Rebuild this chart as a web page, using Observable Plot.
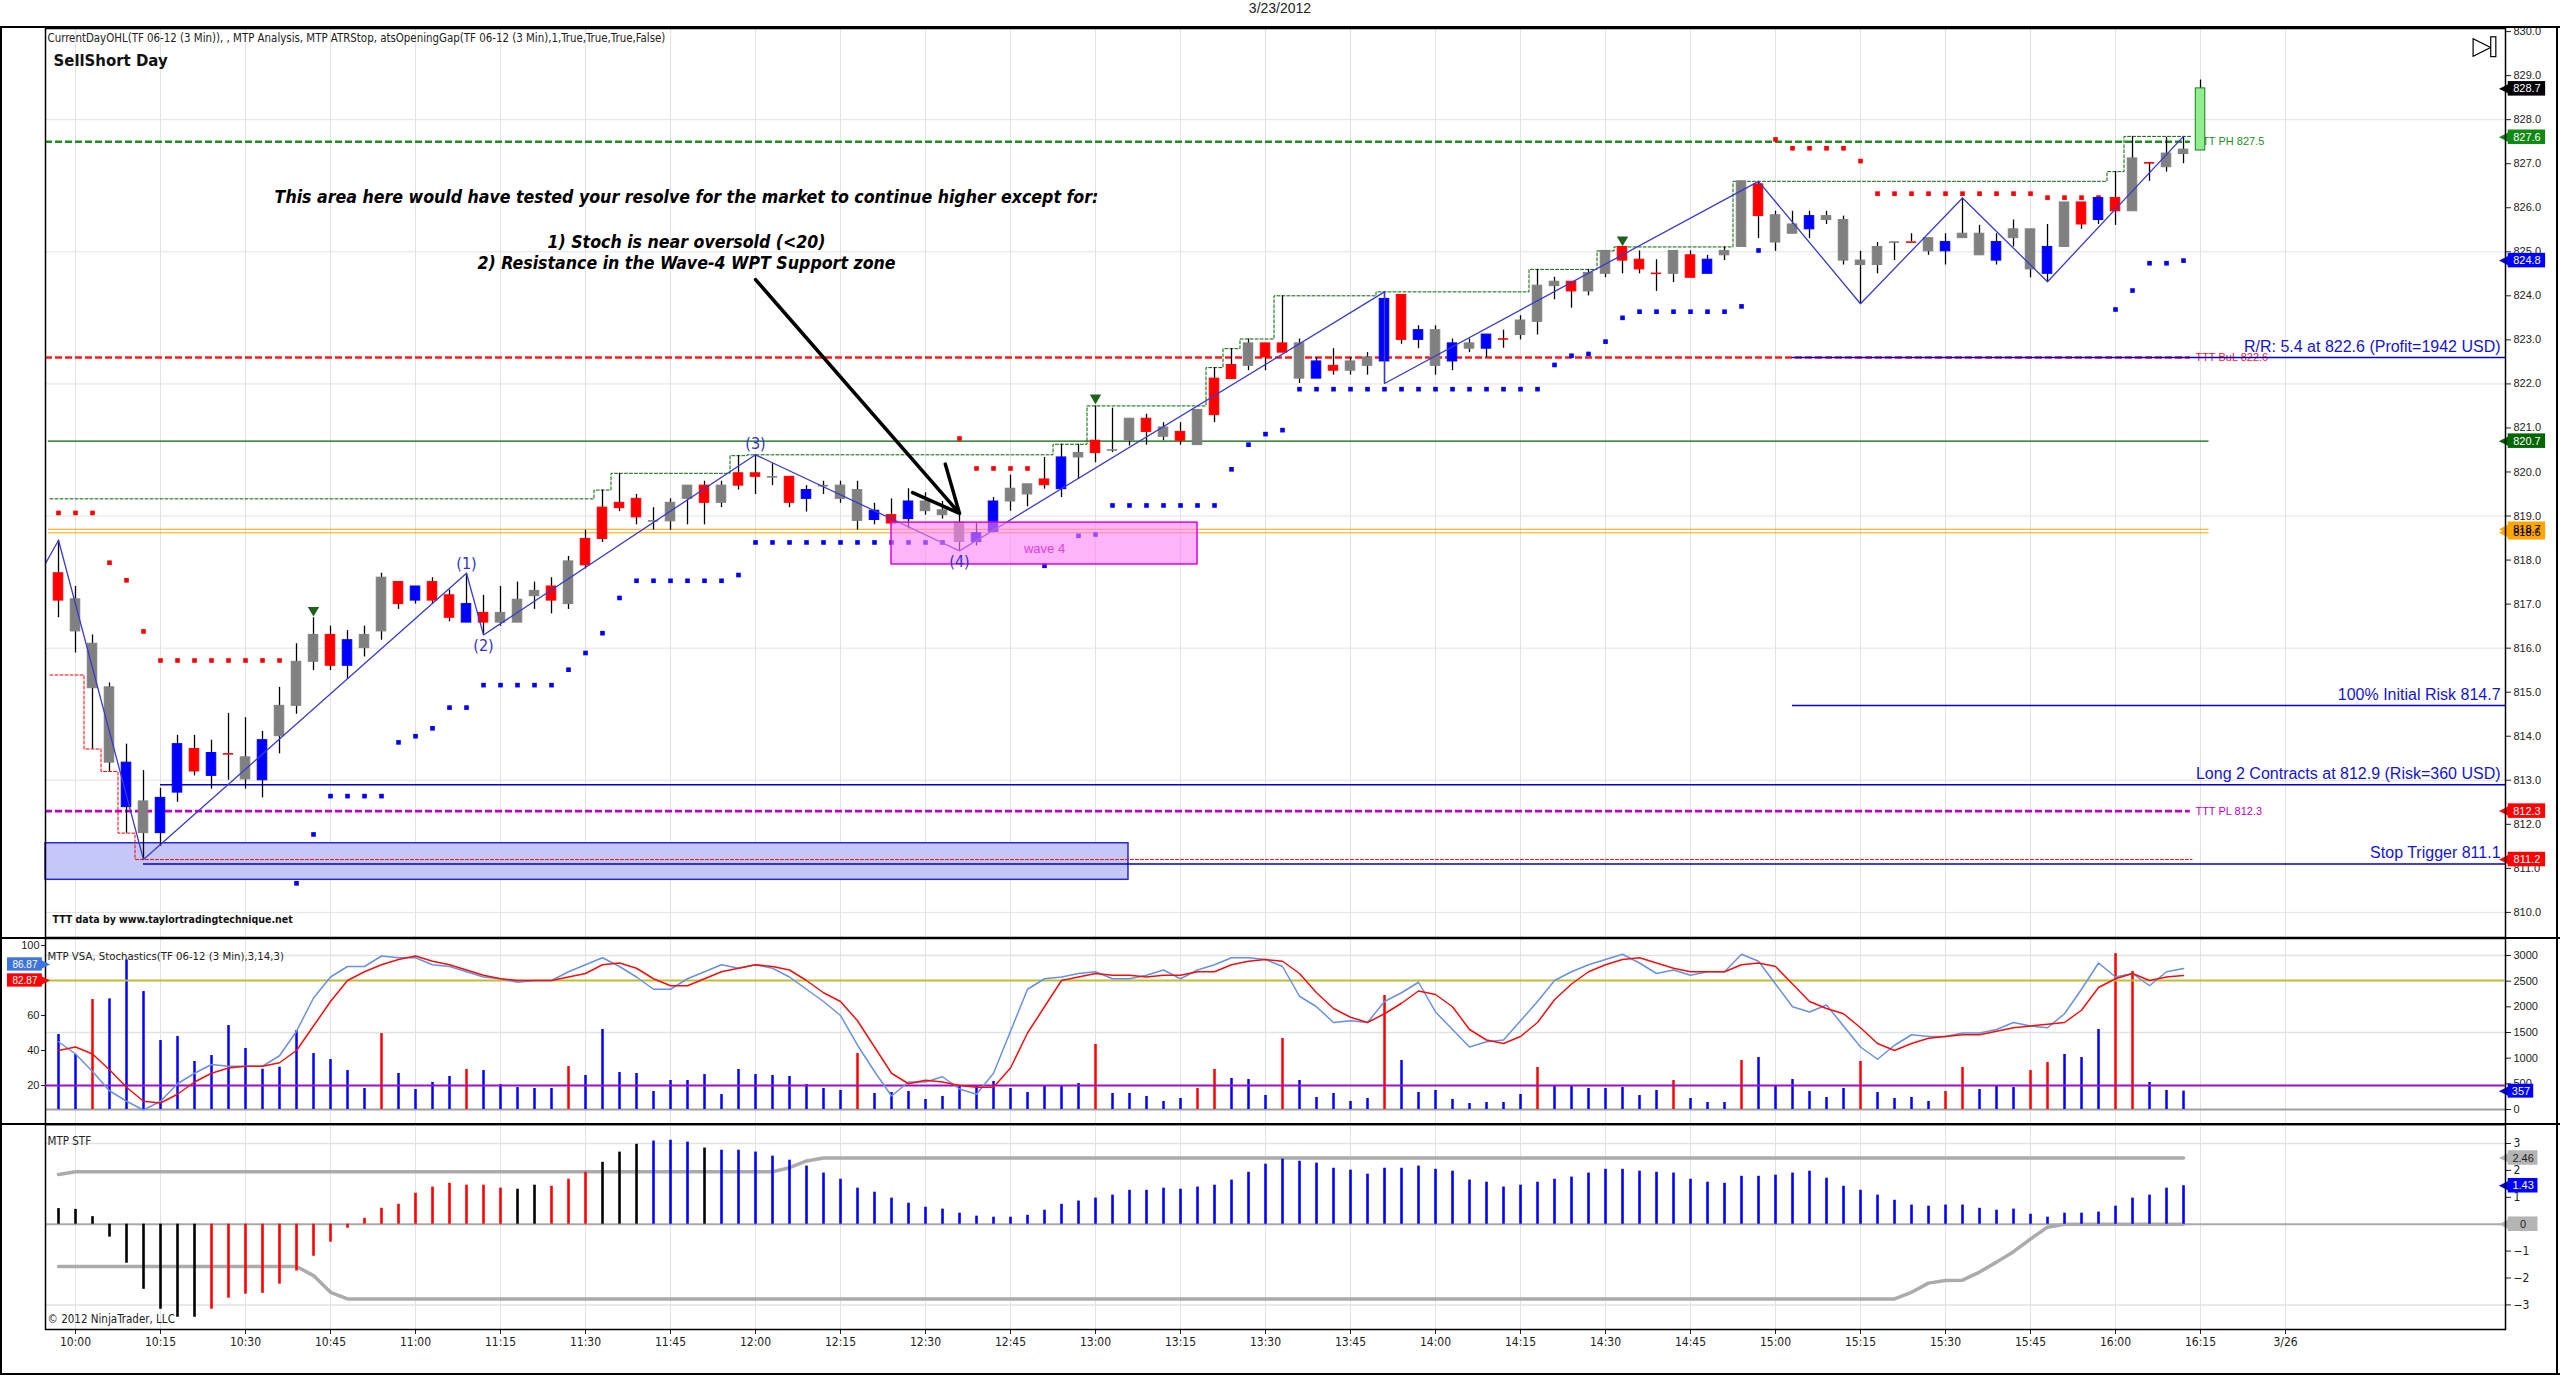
<!DOCTYPE html>
<html>
<head>
<meta charset="utf-8">
<script src="https://cdn.jsdelivr.net/npm/d3@7"></script>
<script src="https://cdn.jsdelivr.net/npm/@observablehq/plot@0.6"></script>
<style>
html,body{margin:0;padding:0;background:#fff;}
#root{position:relative;width:2560px;height:1375px;overflow:hidden;background:#fff;}
#title{position:absolute;left:0;top:0;width:2560px;height:26px;line-height:25px;text-align:center;font:14px "Liberation Sans",Arial,sans-serif;color:#222;}
.pane{position:absolute;left:0;width:2560px;}
.pane svg{position:absolute;left:0;top:0;}
.hl{position:absolute;left:0;width:2560px;height:2px;background:#000;}
.vl{position:absolute;top:26px;width:2px;height:1349px;background:#000;}
</style>
</head>
<body>
<div id="root">
  <div id="title">3/23/2012</div>
  <div id="price" class="pane" style="top:28px;height:909px"></div>
  <div id="stoch" class="pane" style="top:938px;height:186px"></div>
  <div id="stf" class="pane" style="top:1124px;height:251px"></div>
  <div class="hl" style="top:26px"></div>
  <div class="hl" style="top:937px"></div>
  <div class="hl" style="top:1123px"></div>
  <div class="hl" style="top:1373px"></div>
  <div class="vl" style="left:0"></div>
  <div class="vl" style="left:2556px"></div>
</div>
<script>
// ======================= DATA =======================
// 3-minute bars, index 0 = 9:57, index 1 = 10:00 ... index 126 = 16:15
const timeLabels = ["10:00","10:15","10:30","10:45","11:00","11:15","11:30","11:45","12:00","12:15","12:30","12:45","13:00","13:15","13:30","13:45","14:00","14:15","14:30","14:45","15:00","15:15","15:30","15:45","16:00","16:15","3/26"];

const open = [
817.70,816.38,815.09,813.40,812.39,811.80,811.80,812.72,813.71,813.10,
813.60,813.02,813.00,814.00,814.69,815.69,816.30,815.60,816.00,816.38,
817.50,817.08,817.50,817.20,816.58,816.80,816.58,816.58,817.18,817.40,
817.00,818.48,819.19,819.30,819.39,818.89,818.88,819.39,819.69,819.30,
819.97,819.97,819.89,819.89,819.39,819.69,819.39,818.89,818.91,819.02,
818.93,819.11,819.02,818.41,818.41,818.64,819.33,819.49,819.83,819.61,
820.33,820.71,820.50,820.71,821.21,820.80,820.91,820.61,822.12,822.43,
822.41,822.92,822.92,822.12,822.12,822.41,822.30,822.41,822.51,824.02,
823.00,822.41,822.51,822.80,822.80,823.02,823.11,823.41,824.22,824.32,
824.10,824.50,825.11,824.82,824.51,824.50,824.92,824.50,824.92,825.11,
826.53,825.21,825.41,825.51,825.72,824.80,824.70,824.70,825.22,825.22,
825.01,825.01,825.31,824.92,824.80,825.31,824.60,824.50,825.11,826.12,
825.72,826.22,825.92,827.02,826.92,827.22,827.30];
const high = [
818.45,817.40,816.30,815.21,813.82,813.22,812.82,814.02,814.02,813.91,
814.52,814.42,814.11,815.11,816.10,816.69,816.50,816.40,816.50,817.70,
817.50,817.40,817.60,817.32,817.70,817.20,817.40,817.50,817.50,817.60,
818.08,818.68,819.59,819.97,819.49,819.19,819.39,819.69,819.79,819.79,
820.37,820.39,820.19,819.89,819.69,819.79,819.79,819.79,819.29,819.39,
819.62,819.53,819.33,819.04,818.83,819.42,819.93,819.72,820.33,820.63,
820.63,821.50,821.45,821.21,821.31,821.12,821.12,821.41,822.37,822.80,
823.02,822.92,824.00,823.02,822.60,822.80,822.60,822.71,824.09,824.02,
823.32,823.32,823.02,823.02,823.12,823.22,823.55,824.60,824.42,824.32,
824.60,825.02,825.11,825.02,824.82,825.02,825.02,824.92,825.11,826.60,
826.60,825.92,825.92,825.92,825.92,825.81,825.01,825.21,825.22,825.41,
825.31,825.41,826.22,825.60,825.41,825.72,825.51,825.62,826.12,826.12,
826.22,826.82,827.62,827.02,827.60,827.60,828.90];
const low = [
816.69,815.89,813.71,813.20,811.80,811.20,811.50,812.50,813.10,812.80,
813.00,812.80,812.60,813.60,814.50,815.49,815.49,815.29,815.80,816.18,
816.88,817.00,817.00,816.60,816.58,816.30,816.50,816.58,816.88,816.78,
816.88,817.80,818.40,819.10,818.80,818.68,818.68,818.80,818.80,819.19,
819.59,819.49,819.69,819.19,819.09,819.49,819.29,818.68,818.80,818.77,
818.71,819.02,818.93,818.21,818.32,818.62,819.11,819.21,819.61,819.42,
819.83,820.21,820.44,820.59,820.61,820.71,820.61,820.61,821.12,822.11,
822.30,822.30,822.71,822.01,822.12,822.20,822.20,822.20,822.01,822.90,
822.80,822.20,822.30,822.71,822.60,822.81,823.00,823.11,823.91,823.72,
824.00,824.41,824.50,824.50,824.10,824.30,824.41,824.50,824.80,825.11,
825.30,825.01,825.41,825.30,825.62,824.70,823.82,824.50,824.80,825.22,
824.92,824.70,825.31,824.92,824.70,825.11,824.41,824.32,825.11,825.51,
825.62,825.60,825.92,826.60,826.81,827.00,827.30];
const close = [
817.08,817.11,816.10,815.11,813.40,812.52,812.60,813.82,813.20,813.62,
813.60,813.52,813.91,814.69,815.69,816.30,815.60,816.18,816.30,817.60,
817.00,817.40,817.08,816.69,817.00,816.58,816.80,817.10,817.30,817.08,
817.97,817.88,818.48,819.18,818.97,818.89,819.30,819.69,819.30,819.69,
819.69,819.89,819.89,819.30,819.59,819.69,819.69,819.59,819.12,818.83,
819.33,819.33,819.13,818.85,818.61,819.33,819.62,819.72,819.70,820.33,
820.43,820.43,820.50,821.21,820.91,821.01,820.71,821.41,821.29,822.11,
822.92,822.60,822.71,822.92,822.51,822.30,822.51,822.60,823.93,823.00,
823.22,823.22,822.92,822.92,823.12,823.02,823.44,824.23,824.32,824.10,
824.52,825.02,824.80,824.60,824.51,825.02,824.41,824.82,825.02,826.60,
825.81,825.83,825.62,825.81,825.81,825.72,824.80,825.11,825.22,825.22,
825.31,825.22,825.41,825.41,825.22,825.51,825.51,825.11,826.12,825.62,
826.22,825.92,827.12,827.02,827.23,827.32,828.71];
// r = red, b = blue, g = gray, G = current (green) bar
const barColor = Array.from(
"rgggbgbbrb"+"rgbgggrbgg"+"rbrrbrgggr"+"grrrrgggrg"+"rrgrbgggbr"+
"bgggbbggrb"+"grggrgrgrr"+"grrgbrggbr"+"bgbgbrgggr"+"ggrrrgrbgg"+
"rggbgggggr"+"gbggbggbgr"+"brgrggG");

const priorHigh = 819.39;   // day high carried from earlier bars
const priorLow = 815.39;    // day low carried from earlier bars

// ATR stop (red above = short stop, blue below = long stop)
const atrShort = [
819.07,819.07,819.07,817.94,817.54,816.38,815.72,815.72,815.72,815.72,
815.72,815.72,815.72,815.72,null,null,null,null,null,null,
null,null,null,null,null,null,null,null,null,null,
null,null,null,null,null,null,null,null,null,null,
null,null,null,null,null,null,null,null,null,null,
null,null,null,820.76,820.08,820.08,820.08,820.08,null,null,
null,null,null,null,null,null,null,null,null,null,
null,null,null,null,null,null,null,null,null,null,
null,null,null,null,null,null,null,null,null,null,
null,null,null,null,null,null,null,null,null,null,
null,827.55,827.35,827.35,827.35,827.35,827.06,826.32,826.32,826.32,
826.32,826.32,826.32,826.32,826.32,826.32,826.32,826.23,826.23,826.23,
826.23,null,null,null,null,null];
const atrLong = [
null,null,null,null,null,null,null,null,null,null,
null,null,null,null,810.66,811.77,812.64,812.64,812.64,812.64,
813.86,814.00,814.18,814.65,814.65,815.16,815.16,815.16,815.16,815.16,
815.51,815.89,816.34,817.14,817.53,817.53,817.53,817.53,817.53,817.53,
817.66,818.40,818.40,818.40,818.40,818.40,818.40,818.40,818.40,818.40,
818.40,818.40,818.40,null,null,null,null,null,817.87,null,
818.55,818.58,819.24,819.24,819.24,819.24,819.24,819.24,819.24,820.06,
820.62,820.86,820.95,821.88,821.88,821.88,821.88,821.88,821.88,821.88,
821.88,821.88,821.88,821.88,821.88,821.88,821.88,821.88,822.43,822.64,
822.68,822.96,823.50,823.64,823.64,823.64,823.64,823.64,823.64,823.76,
825.03,null,null,null,null,null,null,null,null,null,
null,null,null,null,null,null,null,null,null,null,
null,823.69,824.12,824.74,824.74,824.80];

// Wave zig-zag
const zigBar   = [-1, 0, 5, 24, 25, 41, 53, 78, 78, 100, 106, 112, 117, 125];
const zigPrice = [817.76, 818.45, 811.20, 817.70, 816.30, 820.39, 818.21, 824.09, 822.01, 826.60, 823.82, 826.22, 824.32, 827.62];
const waveLabel = ["(1)", "(2)", "(3)", "(4)"];
const waveBar   = [24, 25, 41, 53];
const wavePrice = [817.92, 816.05, 820.63, 817.96];

const signalBar   = [15, 61, 92];
const signalPrice = [816.85, 821.67, 825.26];

// TTT levels
const levelName  = ["TTT PH", "TTT BuL", "TTT PL"];
const levelValue = [827.5, 822.6, 812.3];
const levelColor = ["#1E8C1E", "#FF1A1A", "#C000C0"];
const levelText  = ["#1E8C1E", "#FF1A1A", "#C000C0"];
// opening gap / other reference lines
const refValue = [820.7, 818.7, 818.62];
const refColor = ["#006400", "#FFA500", "#FFA500"];
const refDash  = ["16,8", "10,3", "2,2"];

// trade annotations
const tradeText  = ["R/R: 5.4 at 822.6 (Profit=1942 USD)", "100% Initial Risk 814.7", "Long 2 Contracts at 812.9 (Risk=360 USD)", "Stop Trigger 811.1"];
const tradeValue = [822.6, 814.7, 812.9, 811.1];
const tradeStart = [102, 102, 6, 5];

// zones
const zoneName  = ["support", "wave 4"];
const zoneStart = [-0.765, 49.0];
const zoneEnd   = [62.94, 67.0];
const zoneLow   = [810.74, 817.90];
const zoneHigh  = [811.57, 818.85];

// price axis value tags
const priceTagValue = [818.62, 828.7, 827.6, 824.8, 820.7, 818.7, 812.3, 811.2];
const priceTagFill  = ["#FFA500", "#000000", "#118811", "#0000FF", "#006400", "#FFA500", "#FF0000", "#FF0000"];
const priceTagInk   = ["#000000", "#FFFFFF", "#FFFFFF", "#FFFFFF", "#FFFFFF", "#000000", "#FFFFFF", "#FFFFFF"];

// Volume (bars 0..125)
const volume = [
1460,1071,2142,2155,2914,2297,1343,1421,935,1051,
1635,1188,785,824,1538,1090,973,759,409,1480,
701,389,526,643,779,759,487,428,409,409,
837,662,1558,720,701,350,565,565,681,292,
779,681,662,643,487,409,370,1090,312,331,
350,195,253,467,467,545,409,331,467,448,
506,1266,312,312,253,156,214,409,779,604,
584,273,1382,565,234,312,156,214,2220,954,
331,370,195,117,136,136,292,818,467,467,
409,409,428,273,370,565,214,136,136,954,
1012,467,584,350,234,409,935,331,214,234,
156,350,818,389,467,428,759,915,1071,1012,
1558,3037,2687,526,370,357];
const volColor = Array.from(
"bbrbbbbbbb"+"bbbbbbbbbr"+"bbbbrbbbbb"+"rbbbbbbbbb"+"bbbbbbbrbb"+
"bbbbbbbbbb"+"brbbbbbrrb"+"bbrbbbbbrb"+"bbbbbbbrbb"+"bbbbbrbbbr"+
"bbbbbbrbbb"+"brrbbbrrbb"+"brrbbb");

// Stochastics (3,14,3)
const stochK = [
45,38,28,17,11,6,11,21,27,32,
31,31,31,37,51,70,82,88,88,94,
93,93,89,88,85,82,81,79,80,80,
85,89,93,88,82,75,75,81,85,89,
87,89,87,82,75,68,60,43,28,14,
22,22,25,18,15,27,51,75,81,82,
84,85,81,81,83,86,81,86,89,93,
93,92,88,71,65,56,57,56,68,73,
79,62,52,42,45,46,57,68,80,85,
89,92,95,90,84,86,83,85,85,95,
91,78,65,62,66,54,42,35,43,49,
48,48,50,50,52,56,54,53,61,75,
90,82,84,77,85,86.87];
const stochD = [
40,42,38,29,19,11,10,15,22,27,
30,31,31,33,40,54,68,80,85,89,
92,94,91,89,86,83,81,80,80,80,
82,84,89,90,87,81,77,77,81,85,
87,89,88,86,80,73,68,57,42,27,
21,23,22,20,19,19,30,50,65,80,
82,84,83,83,82,83,83,85,85,89,
91,92,91,84,73,64,59,56,61,67,
74,72,65,52,46,44,48,56,69,78,
85,89,92,93,90,87,85,85,85,89,
90,88,78,68,64,61,53,44,40,44,
47,48,49,49,51,53,54,55,56,63,
76,81,84,80,82,82.87];

// MTP STF histogram
const stf = [
0.58,0.55,0.28,-0.48,-1.45,-2.42,-3.16,-3.46,-3.46,-3.16,
-2.75,-2.60,-2.57,-2.23,-1.74,-1.19,-0.67,-0.15,0.22,0.59,
0.74,1.15,1.38,1.52,1.45,1.45,1.34,1.30,1.45,1.41,
1.67,1.93,2.30,2.68,2.97,3.09,3.12,3.05,2.83,2.75,
2.75,2.68,2.53,2.38,2.16,1.90,1.67,1.34,1.19,0.97,
0.78,0.63,0.56,0.41,0.30,0.26,0.26,0.33,0.52,0.74,
0.86,0.97,1.08,1.26,1.26,1.34,1.30,1.38,1.45,1.64,
1.93,2.23,2.42,2.34,2.27,2.08,2.01,1.86,2.08,2.08,
2.16,2.04,1.97,1.64,1.56,1.38,1.45,1.56,1.67,1.75,
1.90,2.04,2.04,1.97,1.93,1.90,1.67,1.56,1.52,1.78,
1.78,1.82,1.90,1.97,1.71,1.41,1.26,1.08,0.89,0.71,
0.67,0.71,0.71,0.59,0.52,0.56,0.37,0.26,0.41,0.41,
0.45,0.67,0.97,1.08,1.34,1.43];
const stfColor = Array.from(
"kkkkkkkkkr"+"rrrrrrrrrr"+"rrrrrrrkkr"+"rrkkkbbbkb"+"bbbbbbbbbb"+
"bbbbbbbbbb"+"bbbbbbbbbb"+"bbbbbbbbbb"+"bbbbbbbbbb"+"bbbbbbbbbb"+
"bbbbbbbbbb"+"bbbbbbbbbb"+"bbbbbb");
const stfUpperBar   = [0, 1, 42, 43, 44, 45, 125];
const stfUpperValue = [1.85, 1.95, 1.95, 2.10, 2.35, 2.46, 2.46];
const stfLowerBar   = [0, 14, 15, 16, 17, 108, 109, 110, 111, 112, 113, 114, 115, 116, 117, 118, 125];
const stfLowerValue = [-1.57, -1.57, -1.91, -2.53, -2.78, -2.78, -2.53, -2.19, -2.09, -2.08, -1.78, -1.41, -1.02, -0.55, -0.11, 0, 0];

// ======================= CHECKS =======================
function check(name, arr, n){ if (arr.length !== n) throw new Error(name + " length " + arr.length + " expected " + n); }
[["open",open],["high",high],["low",low],["close",close],["barColor",barColor]].forEach(([n,a])=>check(n,a,127));
[["atrShort",atrShort],["atrLong",atrLong],["volume",volume],["volColor",volColor],["stochK",stochK],["stochD",stochD],["stf",stf],["stfColor",stfColor]].forEach(([n,a])=>check(n,a,126));

// ======================= LAYOUT / STYLE =======================
const SANS = "'Liberation Sans', Arial, sans-serif";
const NARROW = "'Liberation Sans Narrow', 'Arial Narrow', 'DejaVu Sans Condensed', 'Liberation Sans', sans-serif";
const XDOM = [-0.765, 143.94];
const COMMON = {width: 2560, marginLeft: 45, marginRight: 55};
const tickBars = timeLabels.map((_, k) => 1 + 5 * k);
const BAR = {r: "#FF0000", b: "#0000FF", g: "#808080", G: "#90EE90", k: "#000000"};
const GRID = "#E2E2E2";

// custom symbols
const symLeft  = {draw(c, s){ const r = Math.sqrt(s) * 0.55; c.moveTo(-r, 0); c.lineTo(r, -r); c.lineTo(r, r); c.closePath(); }};
const symRight = {draw(c, s){ const r = Math.sqrt(s) * 0.55; c.moveTo(r, 0); c.lineTo(-r, -r); c.lineTo(-r, r); c.closePath(); }};
const symDown  = {draw(c, s){ const r = Math.sqrt(s) * 0.55; c.moveTo(0, r); c.lineTo(-r, -r * 0.7); c.lineTo(r, -r * 0.7); c.closePath(); }};

function tags(values, fills, inks, texts, x1, x2, tipX, half, dir, fs, shift) {
  const d = values.map((v, k) => ({v, f: fills[k], ink: inks[k], t: texts[k]}));
  const dy = shift || 0;
  return [
    Plot.dot(d, {x: tipX, y: "v", symbol: dir === "left" ? symLeft : symRight, r: 5.2, fill: "f", stroke: "f", dy}),
    Plot.rect(d, {x1: x1, x2: x2, y1: e => e.v - half, y2: e => e.v + half, fill: "f", dy}),
    Plot.text(d, {x: (x1 + x2) / 2, y: "v", text: "t", fill: "ink", fontSize: fs || 11, fontFamily: SANS, dy})
  ];
}

// ======================= PRICE PANEL =======================
const bars = open.map((o, i) => ({i, o, h: high[i], l: low[i], c: close[i], k: barColor[i]}));
const bodies = bars.filter(d => Math.abs(d.o - d.c) >= 0.02);
const dojis = bars.filter(d => Math.abs(d.o - d.c) < 0.02);

let runHi = priorHigh, runLo = priorLow;
const hiSteps = [], loSteps = [];
for (let i = 0; i < volume.length; i++) {
  runHi = Math.max(runHi, high[i]); runLo = Math.min(runLo, low[i]);
  hiSteps.push({x: i - 0.5, v: runHi}); loSteps.push({x: i - 0.5, v: runLo});
}
hiSteps.push({x: volume.length - 0.5, v: runHi}); loSteps.push({x: volume.length - 0.5, v: runLo});

const levels = levelValue.map((v, k) => ({v, c: levelColor[k], tc: levelText[k], t: levelName[k] + " " + v.toFixed(1)}));
const refs = refValue.map((v, k) => ({v, c: refColor[k], dash: refDash[k]}));
const trades = tradeValue.map((v, k) => ({v, s: tradeStart[k], t: tradeText[k]}));
const zones = zoneName.map((n, k) => ({n, x1: zoneStart[k], x2: zoneEnd[k], y1: zoneLow[k], y2: zoneHigh[k]}));
const shortStops = atrShort.map((v, i) => ({i, v})).filter(d => d.v != null);
const longStops = atrLong.map((v, i) => ({i, v})).filter(d => d.v != null);
const zig = zigBar.map((b, k) => ({x: b, y: zigPrice[k]}));
const waves = waveLabel.map((t, k) => ({t, x: waveBar[k], y: wavePrice[k]}));
const signals = signalBar.map((b, k) => ({x: b, y: signalPrice[k]}));
const priceTicks = d3.range(810, 830.5, 1);
const priceGrid = d3.range(810, 830, 3);
const NOTE = {fontSize: 17.6, fontWeight: "bold", fontStyle: "italic", fontFamily: NARROW, fill: "#000"};

const pricePlot = Plot.plot({
  ...COMMON, height: 909, marginTop: 0, marginBottom: 0,
  style: {fontFamily: SANS, fontSize: "11px", color: "#222", background: "transparent", overflow: "visible"},
  x: {domain: XDOM, axis: null},
  y: {domain: [809.43, 830.07], axis: "right", ticks: priceTicks, tickFormat: d => d.toFixed(1), tickSize: 5, tickPadding: 3, label: null},
  color: {type: "identity"},
  marks: [
    Plot.ruleX(tickBars, {stroke: GRID}),
    Plot.ruleY(priceGrid, {stroke: GRID}),
    // blue support zone
    Plot.rect(zones.filter(z => z.n === "support"), {x1: "x1", x2: "x2", y1: "y1", y2: "y2", fill: "#C4C7F7", stroke: "#2A2AD0", strokeWidth: 1.5}),
    // reference lines
    Plot.ruleY(refs, {y: "v", x1: -0.6, x2: 126.5, stroke: "c", strokeDasharray: d => d.dash, strokeWidth: 1.2}),
    Plot.ruleY(levels, {y: "v", x1: XDOM[0], x2: 125.4, stroke: "c", strokeWidth: 2.6, strokeDasharray: "7,3"}),
    Plot.text(levels, {x: 125.7, y: "v", text: "t", fill: "tc", textAnchor: "start", fontSize: 11, fontFamily: SANS}),
    // day high / low steps
    Plot.line(hiSteps, {x: "x", y: "v", curve: "step-after", stroke: "#006400", strokeWidth: 1, strokeDasharray: "3,2"}),
    Plot.line(loSteps, {x: "x", y: "v", curve: "step-after", stroke: "#FF0000", strokeWidth: 1, strokeDasharray: "3,2"}),
    // trade lines
    Plot.ruleY(trades, {y: "v", x1: "s", x2: XDOM[1], stroke: "#0000CC", strokeWidth: 1.5}),
    Plot.text(trades, {x: 143.65, y: "v", text: "t", textAnchor: "end", dy: -11, fill: "#1414D2", fontSize: 16, fontFamily: SANS}),
    // ATR stops
    Plot.dot(shortStops, {x: "i", y: "v", symbol: "square", r: 2.6, fill: "#FF0000"}),
    Plot.dot(longStops, {x: "i", y: "v", symbol: "square", r: 2.6, fill: "#0000FF"}),
    // candles
    Plot.ruleX(bars, {x: "i", y1: "l", y2: "h", stroke: "#000", strokeWidth: 1.3}),
    Plot.rect(bodies, {x1: d => d.i - 0.28, x2: d => d.i + 0.28, y1: d => Math.min(d.o, d.c), y2: d => Math.max(d.o, d.c),
      fill: d => BAR[d.k], stroke: d => d.k === "G" ? "#1E7B1E" : BAR[d.k], strokeWidth: 1}),
    Plot.ruleY(dojis, {y: "c", x1: d => d.i - 0.3, x2: d => d.i + 0.3, stroke: d => BAR[d.k], strokeWidth: 1.6}),
    // zig-zag
    Plot.line(zig, {x: "x", y: "y", stroke: "#3A3ACC", strokeWidth: 1.3, clip: true}),
    // wave-4 zone on top (translucent)
    Plot.rect(zones.filter(z => z.n === "wave 4"), {x1: "x1", x2: "x2", y1: "y1", y2: "y2", fill: "#FF80F4", fillOpacity: 0.6, stroke: "#E000E0", strokeWidth: 1.5}),
    Plot.text(zones.filter(z => z.n === "wave 4"), {x: d => (d.x1 + d.x2) / 2, y: d => (d.y1 + d.y2) / 2 - 0.12, text: "n", fill: "#E040E0", fontSize: 13, fontFamily: SANS}),
    Plot.text(waves, {x: "x", y: "y", text: "t", fill: "#3030D0", fontSize: 16, fontFamily: NARROW}),
    Plot.dot(signals, {x: "x", y: "y", symbol: symDown, r: 4.5, fill: "#1F5F1F", stroke: "#1F5F1F"}),
    // annotation
    Plot.text(["This area here would have tested your resolve for the market to continue higher except for:"], {x: 36.94, y: 826.23, ...NOTE}),
    Plot.text(["1) Stoch is near oversold (<20)"], {x: 36.94, y: 825.21, ...NOTE}),
    Plot.text(["2) Resistance in the Wave-4 WPT Support zone"], {x: 36.94, y: 824.74, ...NOTE}),
    Plot.arrow([{}], {x1: 41.0, y1: 824.37, x2: 53.0, y2: 819.06, stroke: "#000", strokeWidth: 3.5, headLength: 22, headAngle: 50}),
    // header texts
    Plot.text(["CurrentDayOHL(TF 06-12 (3 Min)), , MTP Analysis, MTP ATRStop, atsOpeningGap(TF 06-12 (3 Min),1,True,True,True,False)"],
      {frameAnchor: "top-left", dx: 2, dy: 5, lineAnchor: "top", textAnchor: "start", fontSize: 11.4, fontFamily: NARROW, fill: "#222"}),
    Plot.text(["SellShort Day"],
      {frameAnchor: "top-left", dx: 8, dy: 26, lineAnchor: "top", textAnchor: "start", fontSize: 16.6, fontWeight: "bold", fontFamily: NARROW, fill: "#111"}),
    Plot.text(["TTT data by www.taylortradingtechnique.net"],
      {frameAnchor: "bottom-left", dx: 7, dy: -15, textAnchor: "start", fontSize: 10.5, fontWeight: "bold", fontFamily: NARROW, fill: "#111"}),
    // tags on the price axis
    ...tags(priceTagValue, priceTagFill, priceTagInk, priceTagValue.map(v => v.toFixed(1)), 144.1, 146.3, 143.95, 0.165, "left", 11),
    // chart-end icon
    Plot.dot([{}], {x: 142.55, y: 829.64, symbol: symRight, r: 9, fill: "#fff", stroke: "#000", strokeWidth: 1.2}),
    Plot.rect([{}], {x1: 143.1, x2: 143.4, y1: 829.42, y2: 829.87, fill: "#fff", stroke: "#000", strokeWidth: 1.2}),
    Plot.frame({stroke: "#000", strokeWidth: 1.5})
  ]
});
document.getElementById("price").appendChild(pricePlot);

// ======================= VOLUME + STOCHASTICS PANEL =======================
const vol = volume.map((v, i) => ({i, v, k: volColor[i]}));
const volPlot = Plot.plot({
  ...COMMON, height: 186, marginTop: 0, marginBottom: 0,
  style: {fontFamily: SANS, fontSize: "11px", color: "#222", background: "transparent", overflow: "visible"},
  x: {domain: XDOM, axis: null},
  y: {domain: [-292, 3331], axis: "right", ticks: d3.range(0, 3001, 500), tickFormat: d => String(d), tickSize: 5, tickPadding: 3, label: null},
  color: {type: "identity"},
  marks: [
    Plot.ruleX(tickBars, {stroke: GRID}),
    Plot.ruleY([1500, 3000], {stroke: GRID, strokeWidth: 1.5}),
    Plot.ruleY([0], {stroke: "#A0A0A0", strokeWidth: 2}),
    Plot.ruleX(vol, {x: "i", y1: 0, y2: "v", stroke: d => BAR[d.k], strokeWidth: 2.5}),
    ...tags([volume[volume.length - 1]], ["#0000FF"], ["#FFFFFF"], [String(volume[volume.length - 1])], 144.1, 145.6, 143.95, 135, "left", 11),
    Plot.frame({stroke: "#000", strokeWidth: 1.5})
  ]
});
const stochPts = stochK.map((k, i) => ({i, k, d: stochD[i]}));
const lastK = stochK[stochK.length - 1], lastD = stochD[stochD.length - 1];
const stochPlot = Plot.plot({
  ...COMMON, height: 186, marginTop: 0, marginBottom: 0,
  style: {fontFamily: SANS, fontSize: "11px", color: "#222", background: "transparent", overflow: "visible"},
  x: {domain: XDOM, axis: null},
  // the 80 label is covered by the value tags in the original, so only its tick is drawn
  y: {domain: [-2.29, 104], axis: "left", ticks: [20, 40, 60, 80, 100], tickFormat: d => d === 80 ? "" : String(d), tickSize: 4, tickPadding: 2, label: null},
  color: {type: "identity"},
  marks: [
    Plot.ruleY([80], {stroke: "#BDBD3A", strokeWidth: 2}),
    Plot.ruleY([20], {stroke: "#9A10C8", strokeWidth: 2}),
    Plot.line(stochPts, {x: "i", y: "k", stroke: "#6A90E0", strokeWidth: 1.5}),
    Plot.line(stochPts, {x: "i", y: "d", stroke: "#F01010", strokeWidth: 1.5}),
    Plot.text(["MTP VSA, Stochastics(TF 06-12 (3 Min),3,14,3)"],
      {frameAnchor: "top-left", dx: 2, dy: 13, lineAnchor: "top", textAnchor: "start", fontSize: 11.3, fontFamily: NARROW, fill: "#222"}),
    ...tags([lastD], ["#FF0000"], ["#FFFFFF"], [lastD.toFixed(2)], -3.0, -0.95, -0.9, 3.8, "right", 10, 5),
    ...tags([lastK], ["#3F74DD"], ["#FFFFFF"], [lastK.toFixed(2)], -3.0, -0.95, -0.9, 3.8, "right", 10, -4)
  ]
});
const stochDiv = document.getElementById("stoch");
stochDiv.appendChild(volPlot);
stochDiv.appendChild(stochPlot);

// ======================= MTP STF PANEL =======================
const stfBars = stf.map((v, i) => ({i, v, k: stfColor[i]}));
const upper = stfUpperBar.map((b, k) => ({x: b, y: stfUpperValue[k]}));
const lower = stfLowerBar.map((b, k) => ({x: b, y: stfLowerValue[k]}));
const lastStf = stf[stf.length - 1];
const stfPlot = Plot.plot({
  ...COMMON, height: 251, marginTop: 0, marginBottom: 46,
  style: {fontFamily: NARROW, fontSize: "12px", color: "#222", background: "transparent", overflow: "visible"},
  x: {domain: XDOM, axis: "bottom", ticks: tickBars, tickFormat: d => timeLabels[(d - 1) / 5], tickSize: 5, tickPadding: 3, label: null},
  y: {domain: [-3.914, 3.706], axis: "right", ticks: [-3, -2, -1, 0, 1, 2, 3], tickSize: 5, tickPadding: 3, label: null},
  color: {type: "identity"},
  marks: [
    Plot.ruleX(tickBars, {stroke: GRID}),
    Plot.ruleY([-3, 3], {stroke: GRID, strokeWidth: 1.5}),
    Plot.ruleY([0], {stroke: "#A8A8A8", strokeWidth: 2}),
    Plot.line(upper, {x: "x", y: "y", stroke: "#ABABAB", strokeWidth: 3.5}),
    Plot.line(lower, {x: "x", y: "y", stroke: "#ABABAB", strokeWidth: 3.5}),
    Plot.ruleX(stfBars, {x: "i", y1: 0, y2: "v", stroke: d => BAR[d.k], strokeWidth: 2.6}),
    Plot.text(["MTP STF"], {frameAnchor: "top-left", dx: 2, dy: 12, lineAnchor: "top", textAnchor: "start", fontSize: 11.5, fontFamily: NARROW, fill: "#222"}),
    Plot.text(["© 2012 NinjaTrader, LLC"], {frameAnchor: "bottom-left", dx: 2, dy: -7, textAnchor: "start", fontSize: 11.5, fontFamily: NARROW, fill: "#222"}),
    ...tags([stfUpperValue[stfUpperValue.length - 1], lastStf, 0], ["#B4B4B4", "#0000FF", "#B4B4B4"], ["#222", "#FFFFFF", "#222"],
      [stfUpperValue[stfUpperValue.length - 1].toFixed(2), lastStf.toFixed(2), "0"], 144.1, 145.85, 143.95, 0.27, "left", 11),
    Plot.frame({stroke: "#000", strokeWidth: 1.5})
  ]
});
document.getElementById("stf").appendChild(stfPlot);
</script>
</body>
</html>
